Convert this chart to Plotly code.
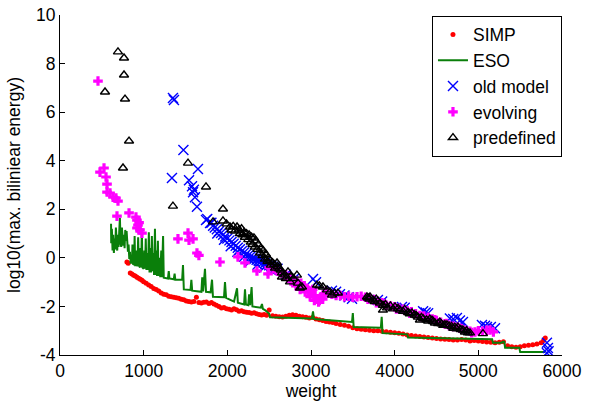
import plotly.graph_objects as go

# ---------------- data ----------------
simp_x = [800, 815, 840, 860, 880, 900, 920, 940, 960, 980, 1000, 1030, 1060, 1090, 1120, 1150, 1180, 1210,
          1240, 1270, 1300, 1330, 1360, 1390, 1420, 1450, 1480, 1510, 1540, 1570, 1600, 1630, 1660, 1690,
          1720, 1750, 1780, 1810, 1840, 1870, 1900, 1930, 1960, 1990, 2020, 2050, 2080, 2110, 2140, 2170,
          2200, 2230, 2260, 2290, 2320, 2350, 2380, 2410, 2440, 2470, 2500, 2540, 2580, 2620, 2660, 2700,
          2740, 2780, 2820, 2860, 2900, 2940, 2980, 3020, 3060, 3100, 3140, 3180, 3220, 3260, 3300, 3350,
          3400, 3450, 3500, 3550, 3600, 3650, 3700, 3750, 3800, 3850, 3900, 3950, 4000, 4050, 4100, 4150,
          4200, 4250, 4300, 4350, 4400, 4450, 4500, 4550, 4600, 4650, 4700, 4750, 4800, 4850, 4900, 4950,
          5000, 5050, 5100, 5150, 5200, 5250, 5300, 5350, 5400, 5450, 5500, 5550, 5600, 5650, 5700, 5750,
          5780, 5800]
simp_y = [-0.17, -0.22, -0.62, -0.66, -0.72, -0.75, -0.80, -0.84, -0.88, -0.92, -0.98, -1.05, -1.12, -1.18,
          -1.26, -1.30, -1.36, -1.45, -1.50, -1.52, -1.58, -1.60, -1.62, -1.64, -1.66, -1.70, -1.72, -1.78,
          -1.80, -1.82, -1.80, -1.62, -1.84, -1.86, -1.83, -1.82, -1.88, -1.84, -1.90, -1.95, -2.00, -2.06,
          -2.04, -2.10, -2.12, -2.15, -2.10, -2.14, -2.20, -2.18, -2.22, -2.24, -2.25, -2.28, -2.26, -2.30,
          -2.33, -2.35, -2.33, -2.36, -2.15, -2.38, -2.40, -2.42, -2.44, -2.40, -2.36, -2.34, -2.36, -2.40,
          -2.42, -2.45, -2.48, -2.46, -2.52, -2.55, -2.58, -2.62, -2.64, -2.66, -2.70, -2.74, -2.78, -2.82,
          -2.88, -2.92, -2.94, -2.96, -2.98, -3.00, -3.00, -3.02, -3.04, -3.06, -3.08, -3.10, -3.14, -3.18,
          -3.20, -3.22, -3.24, -3.26, -3.28, -3.30, -3.32, -3.34, -3.35, -3.36, -3.38, -3.38, -3.36, -3.38,
          -3.42, -3.40, -3.42, -3.44, -3.46, -3.48, -3.50, -3.48, -3.45, -3.62, -3.66, -3.68, -3.66, -3.62,
          -3.60, -3.58, -3.55, -3.50, -3.40, -3.30]

eso_x = [610, 612, 620, 628, 636, 644, 652, 660, 668, 676, 684, 692, 700, 708, 716, 724, 732, 740, 748, 756,
         764, 772, 780, 788, 796, 804, 812, 820, 828, 836, 844, 860, 866, 872, 886, 892, 898, 912, 918, 926,
         934, 942, 956, 962, 970, 978, 986, 1000, 1008, 1016, 1025, 1033, 1045, 1053, 1062, 1070, 1080, 1088,
         1098, 1106, 1116, 1124, 1135, 1143, 1152, 1160, 1170, 1178, 1190, 1198, 1210, 1218, 1232, 1240,
         1290, 1300, 1308, 1360, 1370, 1378, 1460, 1470, 1480, 1560, 1570, 1580, 1690, 1700, 1710, 1733,
         1745, 1800, 1817, 1828, 1960, 1972, 1985, 2080, 2116, 2126, 2200, 2211, 2222, 2250, 2260, 2272,
         2290, 2300, 2400, 2414, 2425, 2450, 2500, 2510, 3010, 3024, 3035, 3490, 3500, 3510, 3835, 3845,
         3855, 4150, 4160, 5165, 5175, 5280, 5290, 5310, 5320, 5490, 5500, 5800]
eso_y = [1.40, 0.60, 1.20, 0.30, 0.95, 0.20, 0.80, 0.35, 1.25, 0.50, 0.30, 0.95, 0.45, 1.10, 1.65, 0.60,
         0.45, 1.25, 0.80, 0.50, 0.95, 0.40, 1.15, 0.70, 1.10, 0.30, 0.25, 0.55, -0.05, 0.25, -0.20, -0.20,
         0.55, -0.25, -0.28, 0.90, -0.30, -0.30, 0.30, -0.35, 0.85, -0.30, -0.40, 0.40, -0.40, 1.15, -0.40,
         -0.45, 0.30, -0.45, 0.80, -0.50, 0.20, -0.50, 1.05, -0.60, 0.40, -0.60, 0.90, -0.55, 0.20, -0.70,
         1.20, -0.70, 0.30, -0.75, 0.70, -0.75, 0.00, -0.80, 0.30, -0.80, 0.90, -0.82, -0.85, -0.55, -0.85,
         -0.88, -0.65, -0.90, -0.90, -0.30, -1.30, -1.32, -0.90, -1.35, -1.40, -0.80, -1.38, -0.45, -1.40,
         -1.42, -0.90, -1.60, -1.62, -1.00, -1.65, -1.80, -1.25, -1.85, -1.92, -1.30, -1.92, -1.95, -1.50,
         -1.95, -1.20, -2.00, -2.05, -1.90, -2.10, -2.15, -2.30, -2.45, -2.50, -2.20, -2.52, -2.64, -2.27,
         -2.85, -2.88, -2.43, -3.10, -3.15, -3.28, -3.35, -3.50, -3.50, -3.45, -3.45, -3.70, -3.70, -3.88,
         -3.88]

old_x = [1350, 1362, 1338, 1475, 1649, 1542, 1578, 1600, 1590, 1613, 1637, 1745, 1760, 1793, 1810, 1830,
         1850, 1875, 1900, 1925, 1950, 1975, 2000, 2025, 2050, 2075, 2100, 2125, 2150, 2175, 2200, 2225,
         2250, 2275, 2300, 2325, 2350, 2375, 2400, 2425, 2450, 2475, 2500, 2525, 2550, 2575, 2600, 1880,
         1960, 2040, 2120, 2200, 2280, 2360, 2440, 2520, 2700, 2800, 3024, 3060, 3250, 3300, 3346, 3400,
         3450, 3490, 3800, 3850, 4087, 4120, 4340, 4370, 4400, 4660, 4700, 4744, 4780, 4816, 5043, 5080,
         5103, 5150, 5199, 5820, 5832, 5820, 5840]
old_y = [6.58, 6.50, 3.29, 4.44, 3.66, 3.20, 2.95, 2.80, 2.70, 2.50, 2.10, 1.56, 1.60, 1.44, 1.45, 1.32,
         1.25, 1.18, 1.10, 1.02, 0.95, 0.88, 0.80, 0.72, 0.65, 0.58, 0.50, 0.42, 0.35, 0.28, 0.22, 0.16,
         0.10, 0.05, 0.00, -0.04, -0.08, -0.12, -0.15, -0.18, -0.22, -0.26, -0.30, -0.34, -0.38, -0.42,
         -0.45, 1.00, 0.75, 0.48, 0.25, 0.05, -0.12, -0.28, -0.40, -0.50, -0.70, -0.85, -0.87, -1.00,
         -1.35, -1.40, -1.50, -1.55, -1.62, -1.68, -1.74, -1.80, -2.02, -2.05, -2.20, -2.25, -2.28, -2.50,
         -2.52, -2.48, -2.58, -2.64, -2.76, -2.80, -2.85, -2.85, -2.90, -3.50, -3.71, -3.92, -3.85]

evo_x = [454, 478, 526, 550, 562, 562, 598, 634, 669, 693, 681, 825, 908, 920, 932, 920, 956, 980, 945,
         1410, 1530, 1542, 1590, 1637, 1660, 1912, 2127, 2211, 2354, 2486, 2550, 2600, 2650, 2700, 2720,
         2750, 2780, 2800, 2830, 2850, 2880, 2900, 2920, 2950, 2970, 3000, 3020, 3050, 3070, 3100, 3120,
         3150, 3180, 3200, 3250, 3300, 3550, 3600, 3650, 3700, 3750, 3800, 3850, 3900, 3950, 4000, 4050,
         4100, 4150, 4200, 4250, 4300, 4350, 4400, 4450, 4500, 4550, 4600, 4650, 4700, 4750, 4800, 4850,
         4900, 4960, 5000, 5050, 5100, 5140, 5180,
         2500, 2580, 2630, 2680, 2760, 2820, 2870, 2930, 2990, 3040, 3090, 3140, 3350, 3400, 3450, 3500,
         3680, 3780, 3880, 4020, 4180, 4320, 4480, 4620, 4780, 4920]
evo_y = [7.28, 3.53, 3.70, 3.33, 3.04, 2.71, 2.67, 2.50, 2.46, 2.34, 1.72, 1.85, 1.68, 1.55, 1.35, 1.23,
         1.15, 1.02, 1.45, 0.78, 1.02, 0.73, 0.78, 0.20, 0.10, -0.17, 0.04, -0.21, -0.54, -0.66, -0.45,
         -0.55, -0.62, -0.70, -0.85, -0.78, -0.90, -1.00, -0.95, -1.10, -1.05, -1.20, -1.15, -1.25, -1.35,
         -1.45, -1.30, -1.55, -1.70, -1.75, -1.60, -1.50, -1.40, -1.45, -1.50, -1.55, -1.60, -1.58, -1.62,
         -1.66, -1.72, -1.80, -1.85, -1.95, -1.98, -2.02, -2.08, -2.12, -2.18, -2.22, -2.30, -2.38, -2.40,
         -2.45, -2.52, -2.58, -2.65, -2.72, -2.78, -2.82, -2.86, -2.92, -2.98, -3.02, -3.05, -3.00, -3.02,
         -2.98, -2.97, -3.05,
         -0.40, -0.50, -0.58, -0.72, -0.95, -1.15, -1.30, -1.40, -1.60, -1.75, -1.82, -1.70, -1.55, -1.60,
         -1.58, -1.62, -1.70, -1.85, -1.90, -2.10, -2.28, -2.42, -2.55, -2.70, -2.90, -3.08]

pre_x = [693, 765, 765, 777, 538, 825, 753, 1350, 1530, 1745, 1948, 1829, 1948, 1990, 2032, 2070, 2116,
         2140, 2170, 2200, 2230, 2260, 2290, 2318, 2340, 2370, 2400, 2430, 2460, 2486, 2510, 2540, 2570,
         2594, 2620, 2653, 2690, 2725, 2653, 2749, 2790, 2832, 2844, 2868, 2892, 3071, 3100, 3143, 3191,
         3227, 3251, 3280, 3322, 3669, 3681, 3705, 3741, 3780, 3824, 3860, 3860, 3908, 3950, 4004, 4040,
         4063, 4100, 4160, 4207, 4240, 4278, 4302, 4340, 4380, 4420, 4446, 4482, 4520, 4560, 4600, 4625,
         4680, 4720, 4756, 4790, 4816, 4840, 4876, 4900, 5055,
         2050, 2090, 2150, 2180, 2210, 2250, 2280, 2300, 2330, 2360, 2390, 2420, 2450, 2480, 2520, 2560,
         2600, 2640, 2700, 2760, 3700, 3760, 3800, 3890, 3980, 4120, 4180, 4260, 4320, 4400, 4460, 4540,
         4580, 4650, 4700, 4740, 4860]
pre_y = [8.48, 8.23, 7.53, 6.54, 6.83, 4.81, 3.70, 2.13, 3.90, 2.92, 2.01, 1.48, 1.52, 1.40, 1.27, 1.30,
         1.27, 1.15, 1.20, 1.05, 1.00, 0.95, 0.85, 0.82, 0.70, 0.55, 0.40, 0.30, 0.15, 0.00, -0.10, -0.20,
         -0.42, -0.21, -0.45, -0.62, -0.70, -0.58, -0.79, -0.99, -0.85, -0.71, -1.04, -1.24, -1.20, -1.12,
         -1.15, -1.20, -1.32, -1.40, -1.53, -1.45, -1.45, -1.61, -1.65, -1.61, -1.74, -1.70, -1.86, -1.95,
         -2.15, -2.06, -1.98, -2.02, -2.08, -2.15, -2.20, -2.25, -2.27, -2.35, -2.44, -2.56, -2.50, -2.55,
         -2.52, -2.56, -2.68, -2.70, -2.72, -2.75, -2.76, -2.82, -2.85, -2.85, -2.95, -2.97, -3.05, -3.09,
         -3.09, -3.12,
         1.15, 1.10, 1.00, 0.95, 0.85, 0.75, 0.65, 0.55, 0.45, 0.35, 0.20, 0.10, -0.05, -0.15, -0.30, -0.28,
         -0.35, -0.50, -0.85, -0.75, -1.70, -1.80, -1.78, -1.92, -2.10, -2.12, -2.30, -2.38, -2.45, -2.60,
         -2.62, -2.65, -2.78, -2.80, -2.90, -2.92, -3.00]

x_ticks = [0, 1000, 2000, 3000, 4000, 5000, 6000]
y_ticks = [-4, -2, 0, 2, 4, 6, 8, 10]

# ---------------- figure ----------------
FONT = "Liberation Sans, Arial, sans-serif"
FS = 17.5
fig = go.Figure()
fig.add_trace(go.Scatter(x=simp_x, y=simp_y, mode="markers", name="SIMP",
                         marker=dict(symbol="circle", size=5, color="#ff0000", line=dict(width=0))))
fig.add_trace(go.Scatter(x=eso_x, y=eso_y, mode="lines", name="ESO",
                         line=dict(color="#0a7f0a", width=2)))
fig.add_trace(go.Scatter(x=old_x, y=old_y, mode="markers", name="old model",
                         marker=dict(symbol="x-thin-open", size=10, color="#0000ff",
                                     line=dict(color="#0000ff", width=1.4))))
fig.add_trace(go.Scatter(x=evo_x, y=evo_y, mode="markers", name="evolving",
                         marker=dict(symbol="cross", size=8, color="#ff00ff", line=dict(width=0))))
fig.add_trace(go.Scatter(x=pre_x, y=pre_y, mode="markers", name="predefined",
                         marker=dict(symbol="triangle-up-open", size=8, color="#000000",
                                     line=dict(color="#000000", width=1.4))))

axis_common = dict(showgrid=False, zeroline=False, showline=True, linecolor="#000000", linewidth=1,
                   ticks="inside", ticklen=5, tickcolor="#000000", mirror=False, automargin=False,
                   tickfont=dict(family=FONT, size=FS, color="#000000"))
fig.update_xaxes(range=[0, 6000], tickvals=x_ticks, ticktext=[str(v) for v in x_ticks],
                 title=dict(text="weight", font=dict(family=FONT, size=FS, color="#000000"), standoff=2),
                 **axis_common)
fig.update_yaxes(range=[-4, 10], tickvals=y_ticks, ticktext=[str(v) for v in y_ticks],
                 title=dict(text="log10(max. biliniear energy)", font=dict(family=FONT, size=FS, color="#000000"),
                            standoff=10),
                 **axis_common)

fig.update_layout(
    width=596, height=403,
    margin=dict(l=60, r=34, t=15, b=48),
    paper_bgcolor="white", plot_bgcolor="white",
    showlegend=True,
    legend=dict(x=0.741, y=0.998, xanchor="left", yanchor="top",
                bgcolor="white", bordercolor="#000000", borderwidth=1,
                font=dict(family=FONT, size=17.5, color="#000000"),
                traceorder="normal"),
)

fig.write_html("out.html", config={"displayModeBar": False},
               post_script="document.body.style.margin='0px';")
